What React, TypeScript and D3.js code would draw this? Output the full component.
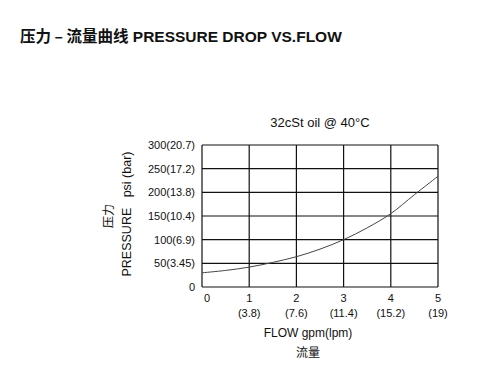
import React from "react";
import * as d3 from "d3";

const flowTicks = [0, 1, 2, 3, 4, 5];
const flowLpm = ["", "(3.8)", "(7.6)", "(11.4)", "(15.2)", "(19)"];
const psiTicks = [0, 50, 100, 150, 200, 250, 300];
const psiLabels = ["0", "50(3.45)", "100(6.9)", "150(10.4)", "200(13.8)", "250(17.2)", "300(20.7)"];
const curveFlow = [0, 0.5, 1, 1.5, 2, 2.5, 3, 3.5, 4, 4.5, 5];
const curvePsi = [30, 35, 42, 52, 64, 80, 100, 125, 155, 195, 234];

const W = 490, H = 376;
const L = 202, R = 438, T = 145, B = 287;
const FONT = "'Liberation Sans', Arial, sans-serif";
const CJK = "'Noto Sans CJK SC', sans-serif";

export default function App() {
  const x = d3.scaleLinear().domain([0, 5]).range([L, R]);
  const y = d3.scaleLinear().domain([0, 300]).range([B, T]);
  const line = d3.line<number>().x((_, i) => x(curveFlow[i])).y((d) => y(d)).curve(d3.curveCatmullRom);
  return (
    <svg width={W} height={H} style={{ position: "absolute", left: 0, top: 0, background: "#fff" }}>
      <rect width={W} height={H} fill="#fff" />
      <text x={20} y={42} fontFamily={FONT} fontWeight="bold" fontSize={15.5} fill="#111">
        <tspan fontFamily={CJK}>压力 – 流量曲线</tspan> PRESSURE DROP VS.FLOW
      </text>
      <text x={320} y={127} textAnchor="middle" fontFamily={FONT} fontSize={13} fill="#111">32cSt oil @ 40°C</text>
      {psiTicks.map((v) => (
        <line key={"h" + v} x1={L} x2={R} y1={y(v)} y2={y(v)} stroke="#111" strokeWidth={1.2} />
      ))}
      {flowTicks.map((v) => (
        <line key={"v" + v} x1={x(v)} x2={x(v)} y1={T} y2={B} stroke="#111" strokeWidth={1.2} />
      ))}
      <path d={line(curvePsi) || ""} fill="none" stroke="#444" strokeWidth={1} />
      {psiTicks.map((v, i) => (
        <text key={"yl" + v} x={195} y={y(v) + 4} textAnchor="end" fontFamily={FONT} fontSize={11} fill="#111">{psiLabels[i]}</text>
      ))}
      {flowTicks.map((v, i) => (
        <g key={"xl" + v}>
          <text x={x(v) + (i === 0 ? 5 : 0)} y={302} textAnchor="middle" fontFamily={FONT} fontSize={11} fill="#111">{v}</text>
          <text x={x(v)} y={317} textAnchor="middle" fontFamily={FONT} fontSize={11} fill="#111">{flowLpm[i]}</text>
        </g>
      ))}
      <text x={308} y={337} textAnchor="middle" fontFamily={FONT} fontSize={12} fill="#111">FLOW gpm(lpm)</text>
      <text x={308} y={357} textAnchor="middle" fontFamily={CJK} fontSize={12} fill="#111">流量</text>
      <text transform="translate(131,214) rotate(-90)" textAnchor="middle" fontFamily={FONT} fontSize={12.5} fill="#111" xmlSpace="preserve">PRESSURE   psi (bar)</text>
      <text transform="translate(113,216) rotate(-90)" textAnchor="middle" fontFamily={CJK} fontSize={12} fill="#111">压力</text>
    </svg>
  );
}
